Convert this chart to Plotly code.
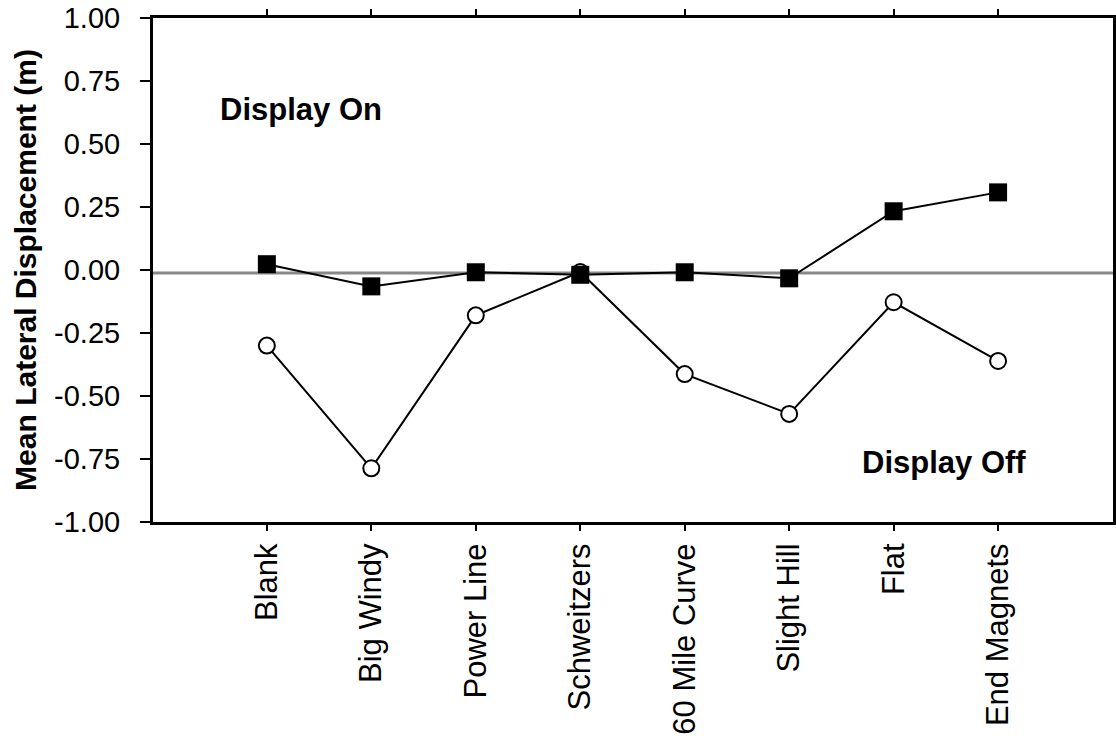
import plotly.graph_objects as go

locations = ["Blank", "Big Windy", "Power Line", "Schweitzers",
             "60 Mile Curve", "Slight Hill", "Flat", "End Magnets"]
display_on = [0.023, -0.065, -0.009, -0.019, -0.009, -0.033, 0.233, 0.308]
display_off = [-0.30, -0.787, -0.18, -0.008, -0.413, -0.571, -0.128, -0.361]
y_ticks = [-1, -0.75, -0.5, -0.25, 0, 0.25, 0.5, 0.75, 1]
y_tick_labels = ["-1.00", "-0.75", "-0.50", "-0.25", "0.00",
                 "0.25", "0.50", "0.75", "1.00"]
zero_ref = -0.012

font = "Liberation Sans, Arial, Helvetica, sans-serif"

fig = go.Figure()
fig.add_trace(go.Scatter(
    x=locations, y=display_off, mode="lines+markers",
    line=dict(color="black", width=2),
    marker=dict(symbol="circle", size=16, color="white",
                line=dict(color="black", width=2)),
    name="Display Off",
))
fig.add_trace(go.Scatter(
    x=locations, y=display_on, mode="lines+markers",
    line=dict(color="black", width=2),
    marker=dict(symbol="square", size=18, color="black"),
    name="Display On",
))

fig.add_shape(type="line", xref="paper", x0=0, x1=1, yref="y",
              y0=zero_ref, y1=zero_ref, layer="below",
              line=dict(color="#888888", width=3))

fig.add_annotation(text="<b>Display On</b>", xref="paper", yref="y",
                   x=0.068, y=0.635, xanchor="left", yanchor="middle",
                   showarrow=False, font=dict(size=31, family=font, color="black"))
fig.add_annotation(text="<b>Display Off</b>", xref="paper", yref="y",
                   x=0.736, y=-0.762, xanchor="left", yanchor="middle",
                   showarrow=False, font=dict(size=31, family=font, color="black"))

fig.update_layout(
    width=1116, height=743,
    margin=dict(l=153, r=3, t=18, b=221),
    paper_bgcolor="white", plot_bgcolor="white",
    showlegend=False,
    font=dict(family=font, color="black", size=28),
    xaxis=dict(
        type="category", categoryorder="array", categoryarray=locations,
        range=[-1.09, 8.1], showgrid=False, zeroline=False, automargin=False,
        showline=True, linecolor="black", linewidth=3, mirror="ticks",
        ticks="outside", ticklen=6, tickwidth=2, tickcolor="black",
        tickangle=-90, tickfont=dict(size=31),
    ),
    yaxis=dict(
        range=[-1, 1], tickmode="array", tickvals=y_ticks, ticktext=y_tick_labels,
        showgrid=False, zeroline=False, automargin=False,
        showline=True, linecolor="black", linewidth=3, mirror="ticks",
        ticks="outside", ticklen=10, tickwidth=2, tickcolor="black",
        tickfont=dict(size=29), ticklabelstandoff=14, ticklabeloverflow="allow",
        title=dict(text="<b>Mean Lateral Displacement (m)</b>",
                   font=dict(size=30), standoff=9),
    ),
)

# drop the default 8px body margin so the figure fills the window
fig.write_html("out.html", config={"displayModeBar": False},
               post_script="document.body.style.margin = '0';")
